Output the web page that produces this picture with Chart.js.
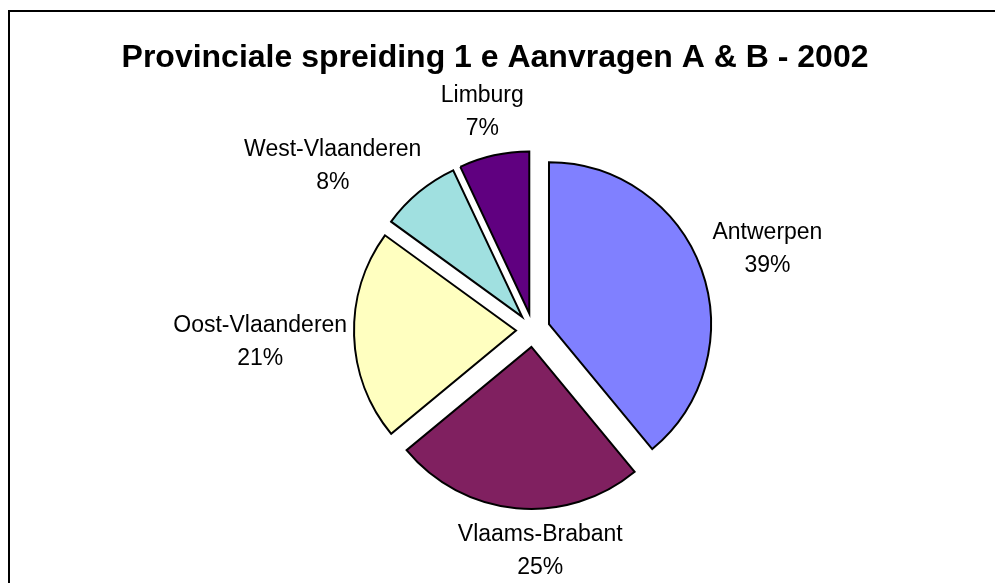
<!DOCTYPE html>
<html><head><meta charset="utf-8">
<script src="https://cdn.jsdelivr.net/npm/chart.js@4/dist/chart.umd.min.js"></script>
<style>html,body{margin:0;padding:0;background:#fff;overflow:hidden}#wrap{width:995px;height:583px;position:relative}</style>
</head><body><div id="wrap"><canvas id="c" width="995" height="583"></canvas></div>
<script>
const TITLE = 'Provinciale spreiding 1 e Aanvragen A & B - 2002';
const categories = ['Antwerpen', 'Vlaams-Brabant', 'Oost-Vlaanderen', 'West-Vlaanderen', 'Limburg'];
const values = [39, 25, 21, 8, 7];
const colors = ['#8080FF', '#802060', '#FFFFC0', '#A0E0E0', '#600080'];

// styling / layout constants
const EXPLODE = 17, RADIUS = 162, LABEL_GAP = 12;
const FONT = '"Liberation Sans", Arial, sans-serif';
const LABEL_SIZE = 23, LABEL_LH = 33;
const LABEL_NUDGE = [[3, -5], [33, -2], [5, 5], [-22, 9], [0, 1]];

const explodePlugin = {
  id: 'explode',
  afterDatasetUpdate(chart, args) {
    args.meta.data.forEach(arc => {
      const mid = (arc.startAngle + arc.endAngle) / 2;
      arc.x += Math.cos(mid) * EXPLODE;
      arc.y += Math.sin(mid) * EXPLODE;
    });
  }
};

const decorPlugin = {
  id: 'decor',
  afterDatasetsDraw(chart) {
    const ctx = chart.ctx;
    const meta = chart.getDatasetMeta(0);
    const total = values.reduce((a, b) => a + b, 0);
    ctx.save();
    ctx.fillStyle = '#000';
    ctx.font = LABEL_SIZE + 'px ' + FONT;
    ctx.textAlign = 'center';
    ctx.textBaseline = 'middle';
    meta.data.forEach((arc, i) => {
      const mid = (arc.startAngle + arc.endAngle) / 2;
      const dx = Math.cos(mid), dy = Math.sin(mid);
      const cx = arc.x - dx * EXPLODE, cy = arc.y - dy * EXPLODE;
      const dist = arc.outerRadius + EXPLODE + LABEL_GAP;
      const l1 = categories[i];
      const l2 = Math.round(values[i] / total * 100) + '%';
      const w = Math.max(ctx.measureText(l1).width, ctx.measureText(l2).width);
      const h = LABEL_LH * 2;
      const bx = cx + dx * dist + dx * w / 2 + LABEL_NUDGE[i][0];
      const by = cy + dy * dist + dy * h / 2 + LABEL_NUDGE[i][1];
      ctx.fillText(l1, bx, by - LABEL_LH / 2);
      ctx.fillText(l2, bx, by + LABEL_LH / 2);
    });
    ctx.restore();
  },
  afterDraw(chart) {
    const ctx = chart.ctx;
    ctx.save();
    ctx.strokeStyle = '#000';
    ctx.lineWidth = 2;
    ctx.strokeRect(9, 11, 1100, 700);
    ctx.fillStyle = '#000';
    ctx.font = 'bold 32px ' + FONT;
    ctx.textAlign = 'center';
    ctx.textBaseline = 'middle';
    ctx.fillText(TITLE, 495, 58);
    ctx.restore();
  }
};

new Chart(document.getElementById('c'), {
  type: 'pie',
  data: {
    labels: categories,
    datasets: [{
      data: values,
      backgroundColor: colors,
      borderColor: '#000',
      borderWidth: 2,
      borderJoinStyle: 'miter'
    }]
  },
  options: {
    responsive: false,
    animation: false,
    radius: RADIUS,
    layout: { padding: { left: 71, top: 77, right: 0, bottom: 0 } },
    plugins: { legend: { display: false }, tooltip: { enabled: false }, title: { display: false } }
  },
  plugins: [explodePlugin, decorPlugin]
});
</script></body></html>
